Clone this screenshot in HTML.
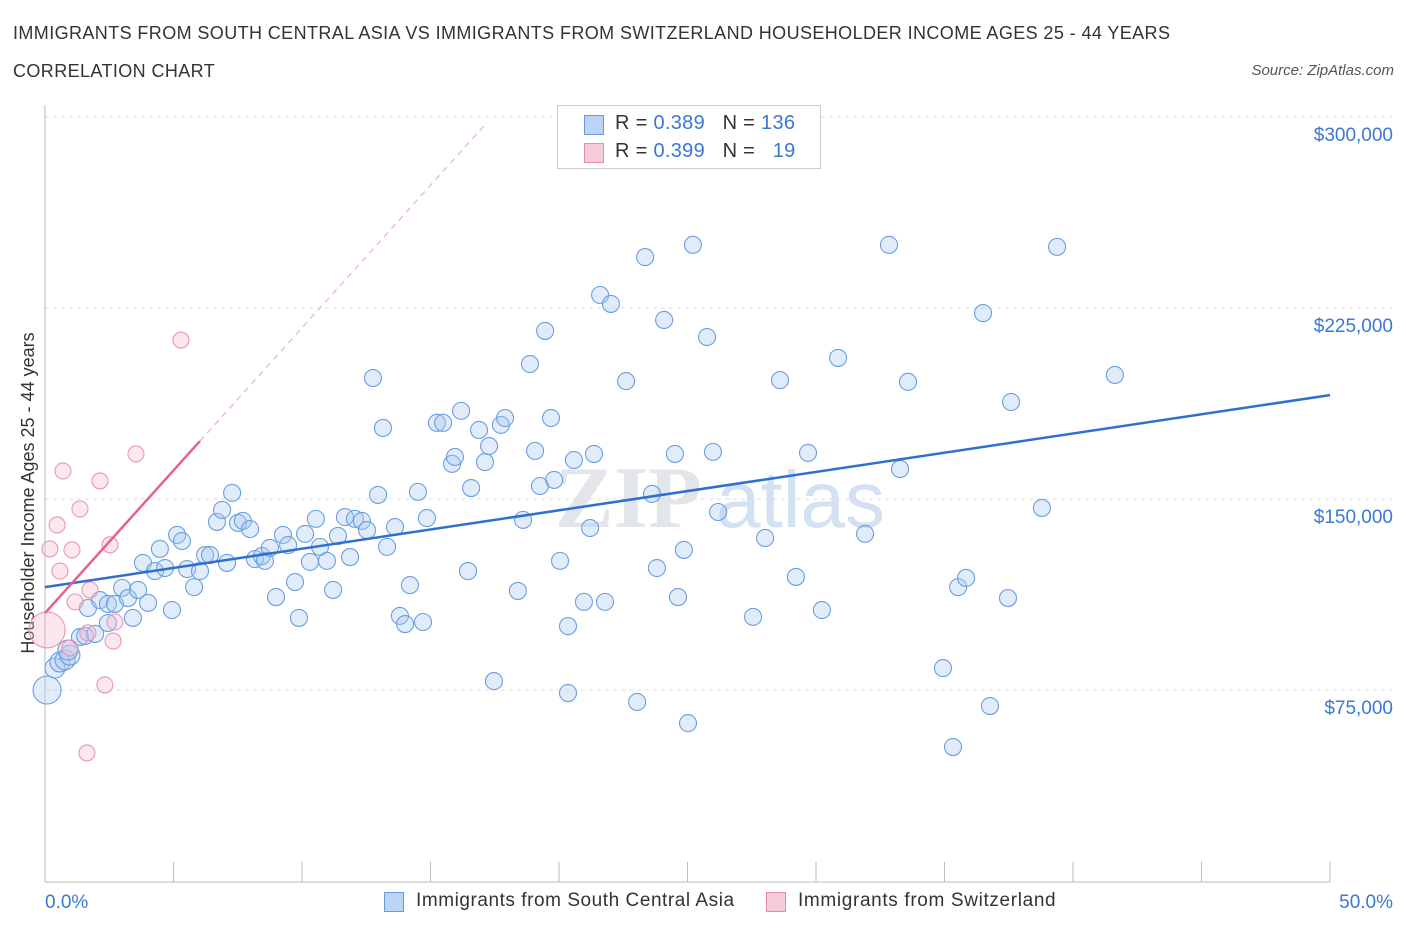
<!DOCTYPE html>
<html><head><meta charset="utf-8">
<style>
body{margin:0;background:#fff;font-family:"Liberation Sans",sans-serif;}
#wrap{position:relative;width:1406px;height:930px;overflow:hidden;}
.t{position:absolute;white-space:nowrap;}
</style></head>
<body>
<div id="wrap">
<div class="t" style="left:13px;top:23px;font-size:18px;letter-spacing:0.4px;color:#333;">IMMIGRANTS FROM SOUTH CENTRAL ASIA VS IMMIGRANTS FROM SWITZERLAND HOUSEHOLDER INCOME AGES 25 - 44 YEARS</div>
<div class="t" style="left:13px;top:61px;font-size:18px;letter-spacing:0.4px;color:#333;">CORRELATION CHART</div>
<div class="t" style="right:12px;top:62px;font-size:15px;color:#555;font-style:italic;">Source: ZipAtlas.com</div>
<svg id="svg" width="1406" height="930" style="position:absolute;left:0;top:0"></svg>
</div>
<script>
const blueX=[0.08,0.39,0.58,0.78,0.97,0.89,1.36,1.56,1.95,1.67,2.14,2.45,2.72,3.0,3.23,3.42,2.45,3.62,4.01,3.81,4.28,4.47,4.67,4.94,5.14,5.33,5.53,5.8,6.03,6.23,6.42,6.69,6.89,7.08,7.28,7.51,7.7,7.98,8.17,8.44,8.56,8.75,8.99,9.26,9.46,9.73,9.88,10.12,10.31,10.54,10.7,10.97,11.21,11.4,11.67,11.87,12.06,12.33,12.53,12.76,12.96,13.15,13.31,13.62,13.81,14.01,14.2,14.51,14.71,14.86,15.25,15.49,15.84,15.95,16.19,16.46,16.58,16.89,17.12,17.28,17.47,17.74,17.9,18.4,18.6,18.87,19.07,19.26,19.46,19.69,19.81,20.04,20.35,20.35,20.58,20.97,21.21,21.36,21.6,21.79,22.02,22.61,23.04,23.35,23.62,23.81,24.09,24.51,24.63,24.86,25.02,25.21,25.76,25.99,26.19,27.55,28.02,28.6,29.22,29.69,30.23,30.86,31.91,32.84,33.27,33.58,34.94,35.33,35.53,35.84,36.5,36.77,37.47,37.59,38.79,39.38,41.63];
const blueY=[75.0,83.6,86.0,86.8,88.7,90.7,95.8,96.2,97.0,107.2,110.3,108.8,108.8,115.1,111.1,103.3,101.3,114.3,109.2,124.9,121.7,130.4,122.9,106.4,135.9,133.5,122.5,115.4,121.7,128.0,128.0,141.0,145.7,124.9,152.4,140.6,141.4,138.2,126.4,127.6,125.7,130.8,111.5,135.9,131.9,117.4,103.3,136.3,125.3,142.2,131.2,125.7,114.3,135.5,142.9,127.2,142.2,141.4,137.8,197.5,151.6,177.9,131.2,139.0,104.1,100.9,116.2,152.8,101.7,142.5,179.9,179.9,163.8,166.5,184.6,121.7,154.3,177.1,164.5,170.8,78.5,179.1,181.8,113.9,141.8,203.0,168.9,155.1,216.0,181.8,157.5,125.7,73.8,100.1,165.3,109.6,138.6,167.7,230.1,109.6,226.6,196.3,70.3,245.0,152.0,122.9,220.3,167.7,111.5,130.0,62.0,249.8,213.6,168.5,144.9,103.7,134.7,196.7,119.4,168.1,106.4,205.4,136.3,249.8,161.8,196.0,83.6,52.6,115.4,119.0,223.0,68.7,111.1,188.1,146.5,249.0,198.7];
const pinkX=[0.08,0.19,0.47,0.58,0.7,1.05,1.17,1.36,1.67,1.75,1.63,2.14,2.33,2.53,2.65,2.72,3.54,5.29,0.97];
const pinkY=[98.6,130.4,139.8,121.7,161.0,130.0,109.6,146.1,97.4,114.3,50.3,157.1,77.0,132.0,94.2,101.7,167.7,212.4,91.5];
const blueLine=[115.4,190.8];   // value at 0% and 50%
const pinkLine=[105.2,11.2];    // intercept, slope per %
const yTicks=[75,150,225,300];
const yTickLabels=["$75,000","$150,000","$225,000","$300,000"];

const X=v=>45+v*25.7;
const Y=v=>690-(v-75)*191/75;
const svg=document.getElementById('svg');
const NS='http://www.w3.org/2000/svg';
function mk(tag,attrs){const e=document.createElementNS(NS,tag);for(const k in attrs)e.setAttribute(k,attrs[k]);svg.appendChild(e);return e;}

let wm=mk('text',{x:555,y:527,'font-size':88,fill:'#e2e6eb','font-family':'Liberation Serif, serif','font-weight':'bold'});
wm.textContent='ZIP';


let wm2=mk('text',{x:716,y:527,'font-size':80,fill:'#d3e1f3','font-family':'Liberation Sans, sans-serif'});
wm2.textContent='atlas';



yTicks.forEach((t,i)=>{
 let g=mk('line',{x1:45,x2:1392,y1:Y(t),y2:Y(t),stroke:'#dcdcdc','stroke-dasharray':'4,4'});
 
 
 let tx=mk('text',{x:1393,y:Y(t)+24,'text-anchor':'end','font-size':19,fill:'#3a78d4','font-family':'Liberation Sans, sans-serif'});
 tx.textContent=yTickLabels[i];
 
 
});
let ax=mk('line',{x1:45,x2:1330,y1:882,y2:882,stroke:'#bbb'});


let ay=mk('line',{x1:45,x2:45,y1:105,y2:882,stroke:'#bbb'});


for(let i=0;i<=10;i++){
 let tk=mk('line',{x1:X(i*5),x2:X(i*5),y1:862,y2:882,stroke:'#bbb'});
 
 
}
let xl0=mk('text',{x:45,y:908,'font-size':19,fill:'#3a78d4','font-family':'Liberation Sans, sans-serif'});xl0.textContent='0.0%';


let xl1=mk('text',{x:1393,y:908,'text-anchor':'end','font-size':19,fill:'#3a78d4','font-family':'Liberation Sans, sans-serif'});xl1.textContent='50.0%';


let yt=mk('text',{x:34,y:493,'text-anchor':'middle','font-size':18,fill:'#333',transform:'rotate(-90 34 493)','font-family':'Liberation Sans, sans-serif'});
yt.textContent='Householder Income Ages 25 - 44 years';



blueX.forEach((x,i)=>{
 const r=(x<1.2)?(i==0?14:10):8.5;
 let c=mk('circle',{cx:X(x),cy:Y(blueY[i]),r:r,fill:'rgba(170,200,240,0.35)',stroke:'#6a9ee0','stroke-width':1.1});
 
 
});
pinkX.forEach((x,i)=>{
 const r=i==0?18:8;
 let c=mk('circle',{cx:X(x),cy:Y(pinkY[i]),r:r,fill:'rgba(246,185,205,0.35)',stroke:'#ec95b2','stroke-width':1.1});
 
 
});
let bl=mk('line',{x1:X(0),y1:Y(blueLine[0]),x2:X(50),y2:Y(blueLine[1]),stroke:'#2f6fd0','stroke-width':2.5});


let pl=mk('line',{x1:X(0),y1:Y(pinkLine[0]),x2:X(6.03),y2:Y(pinkLine[0]+pinkLine[1]*6.03),stroke:'#e8608c','stroke-width':2.5});


let pd=mk('line',{x1:X(6.03),y1:Y(pinkLine[0]+pinkLine[1]*6.03),x2:X(17.12),y2:Y(pinkLine[0]+pinkLine[1]*17.12),stroke:'#eab0c4','stroke-width':1.2,'stroke-dasharray':'6,5'});


</script>
<div class="t" style="left:557px;top:105px;width:262px;height:62px;border:1px solid #ccc;background:#fff;">
 <div class="t" style="left:26px;top:9px;width:18px;height:18px;background:#bcd4f4;border:1px solid #6a9ad8;"></div>
 <div class="t" style="left:57px;top:6px;font-size:20px;letter-spacing:0.3px;color:#333;">R = <span style="color:#3a78d4">0.389</span>&nbsp;&nbsp;&nbsp;N = <span style="color:#3a78d4">136</span></div>
 <div class="t" style="left:26px;top:37px;width:18px;height:18px;background:#f8cbd8;border:1px solid #e88aa8;"></div>
 <div class="t" style="left:57px;top:34px;font-size:20px;letter-spacing:0.3px;color:#333;">R = <span style="color:#3a78d4">0.399</span>&nbsp;&nbsp;&nbsp;N = &nbsp;&nbsp;<span style="color:#3a78d4">19</span></div>
</div>
<div class="t" style="left:384px;top:892px;width:18px;height:18px;background:#bcd4f4;border:1px solid #6a9ad8;"></div>
<div class="t" style="left:416px;top:890px;font-size:19px;letter-spacing:0.55px;color:#333;">Immigrants from South Central Asia</div>
<div class="t" style="left:766px;top:892px;width:18px;height:18px;background:#f8cbd8;border:1px solid #e88aa8;"></div>
<div class="t" style="left:798px;top:890px;font-size:19px;letter-spacing:0.65px;color:#333;">Immigrants from Switzerland</div>
</body></html>
